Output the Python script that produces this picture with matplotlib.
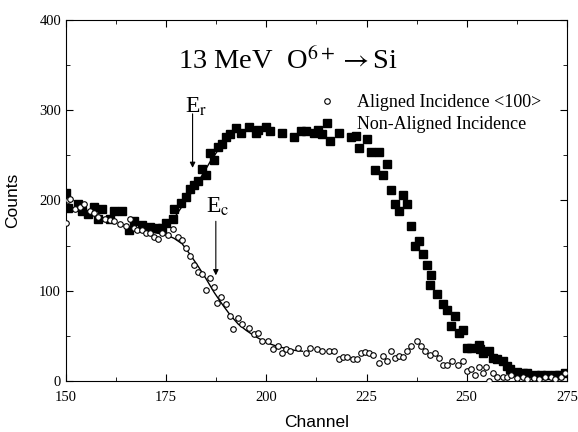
#!/usr/bin/env python3

import numpy as np
import matplotlib
matplotlib.use('Agg')
import matplotlib.pyplot as plt
from matplotlib.ticker import MultipleLocator

# non-aligned incidence (filled squares)
nonaligned_ch = [150, 150.5, 153, 154, 155.5, 157, 158, 159, 161, 162, 164, 165.7, 167, 169,
                 171, 172.6, 174, 175, 176.6, 177, 178.6, 180, 181, 182, 183, 184, 185, 186,
                 187, 188, 189, 190, 191, 192.4, 193.8, 195.7, 197.5, 198, 200, 201, 204, 207,
                 208.6, 210, 211.8, 213, 214, 216, 218, 221, 222.4, 223, 225, 226, 227, 228,
                 229, 230, 231, 232, 233, 234, 235, 236, 237, 238, 239, 240, 240.8, 241,
                 242.6, 244, 245, 246, 247, 248, 249, 250, 251, 253, 253.3, 254, 255.6,
                 256.5, 257.5, 259, 260, 260.7, 262.5, 264, 265, 267, 268.5, 270, 272, 273,
                 274.5]
nonaligned_counts = [208, 192, 196, 188, 185, 193, 180, 190, 180, 188, 188, 167, 177, 173,
                     171, 169, 169, 175, 180, 190, 197, 204, 213, 217, 222, 235, 228, 253,
                     245, 259, 263, 270, 274, 280, 275, 281, 275, 278, 281, 277, 275, 270,
                     277, 277, 275, 278, 274, 266, 275, 270, 271, 258, 268, 254, 234, 254,
                     228, 240, 212, 196, 188, 206, 196, 172, 149, 155, 141, 129, 106, 117,
                     96, 85, 79, 61, 72, 53, 56, 37, 37, 40, 35, 31, 33,
                     26, 24, 22, 17, 13, 10, 9, 9, 7, 7, 7, 7, 7,
                     9]

# aligned incidence <100> (open circles)
aligned_ch = [150, 150.5, 151, 152.3, 153.5, 154.6, 156, 157, 158, 159.7, 161, 162, 163.6,
              165, 166, 167, 167.7, 169, 170, 171, 172, 172.9, 174, 175.4, 176.7, 178, 179,
              180, 181, 182, 183, 184, 185, 186, 187, 187.8, 188.7, 190, 191, 191.7, 193,
              194, 195.7, 197, 198, 199, 200.5, 201.7, 203, 204, 205, 206, 208, 210, 211,
              212.7, 214, 215.7, 217, 218, 219, 220, 221.5, 222.7, 223.6, 224.7, 225.6,
              226.6, 228, 229, 230, 231, 232, 233, 234, 235, 236, 237.5, 238.6, 239.5,
              240.9, 242, 243, 244, 245, 246.4, 247.8, 249, 250, 251, 252, 253, 254, 254.7,
              255.6, 256.5, 257.5, 259, 260, 261, 262.5, 264, 265, 266.7, 268, 269.5, 271,
              272, 273.5, 274.5]
aligned_counts = [175, 200, 202, 190, 193, 196, 188, 186, 182, 180, 178, 177, 174,
                  172, 180, 169, 167, 167, 164, 164, 160, 157, 164, 162, 168, 159, 156,
                  147, 138, 129, 121, 118, 101, 114, 104, 86, 93, 85, 72, 58, 70,
                  63, 59, 52, 53, 44, 44, 35, 39, 31, 35, 33, 37, 31, 37,
                  35, 33, 33, 33, 24, 27, 27, 24, 24, 31, 32, 31,
                  29, 20, 28, 22, 33, 26, 28, 27, 33, 39, 44, 39, 33,
                  29, 31, 26, 18, 18, 22, 18, 22, 11, 13, 7, 15, 9, 15,
                  0, 9, 5, 5, 4, 7, 3, 4, 2, 3, 2, 4, 5,
                  2, 5, 9]

# fitted curves
fit_aligned_ch = [165, 170, 175, 177, 179, 181, 183, 185, 187, 189, 191, 193, 195, 197,
                  199, 201, 203, 205, 207, 209]
fit_aligned = [170, 166, 162, 158, 152, 140, 127, 113, 98, 85, 73, 63, 56, 50,
               45, 41, 38, 36, 34, 33]
fit_nonaligned_ch = [176, 178, 180, 182, 184, 186, 188, 190, 192]
fit_nonaligned = [174, 187, 200, 213, 228, 243, 256, 267, 274]

plt.rcParams['font.family'] = ['Liberation Serif', 'DejaVu Serif']
plt.rcParams['mathtext.fontset'] = 'stix'

fig = plt.figure(figsize=(5.78, 4.32), dpi=100)
ax = fig.add_axes([0.114, 0.118, 0.867, 0.836])

ax.plot(fit_aligned_ch, fit_aligned, 'k-', lw=1.0, zorder=1)
ax.plot(fit_nonaligned_ch, fit_nonaligned, 'k-', lw=1.0, zorder=1)
ax.plot(aligned_ch, aligned_counts, 'o', ms=4, mfc='white', mec='black', mew=0.8,
        zorder=3, label='Aligned Incidence <100>')
ax.plot(nonaligned_ch, nonaligned_counts, 's', ms=6, color='black', zorder=2,
        label='Non-Aligned Incidence')

ax.text(205.5, 354, r'13 MeV  O$^{6+}\rightarrow$Si', ha='center', va='center', fontsize=20.5)

ax.annotate('', xy=(181.6, 233), xytext=(181.6, 299),
            arrowprops=dict(arrowstyle='-|>', color='black', lw=0.8, mutation_scale=8))
ax.text(182.6, 304, r'E$_\mathrm{r}$', fontsize=17, ha='center', va='center')
ax.annotate('', xy=(187.4, 114), xytext=(187.4, 180),
            arrowprops=dict(arrowstyle='-|>', color='black', lw=0.8, mutation_scale=8))
ax.text(188.0, 193, r'E$_\mathrm{c}$', fontsize=17, ha='center', va='center')

ax.legend(loc='upper right', bbox_to_anchor=(0.974, 0.83), frameon=False, fontsize=13,
          handletextpad=0.9, borderaxespad=0.3, labelspacing=0.3, handlelength=1.5)

ax.set_xlim(150, 275)
ax.set_ylim(0, 400)
ax.xaxis.set_major_locator(MultipleLocator(25))
ax.xaxis.set_minor_locator(MultipleLocator(12.5))
ax.yaxis.set_major_locator(MultipleLocator(100))
ax.yaxis.set_minor_locator(MultipleLocator(50))
ax.tick_params(which='both', direction='in', top=True, right=True, labelsize=10.5)
ax.tick_params(which='major', length=5)
ax.tick_params(which='minor', length=3)
ax.tick_params(axis='x', pad=7)

ax.set_xlabel('Channel', family='Liberation Sans', fontsize=12.5, labelpad=8)
ax.set_ylabel('Counts', family='Liberation Sans', fontsize=12.5, labelpad=14)

fig.savefig('out.png', dpi=100)
